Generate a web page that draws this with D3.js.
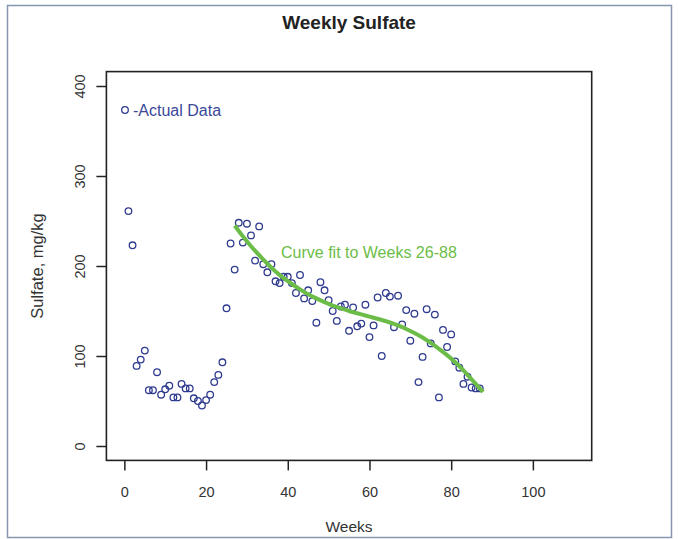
<!DOCTYPE html>
<html>
<head>
<meta charset="utf-8">
<script src="https://cdn.jsdelivr.net/npm/d3@7"></script>
<style>
  html, body { margin: 0; padding: 0; background: #ffffff; }
  svg { display: block; font-family: Arial, "Liberation Sans", Helvetica, sans-serif; }
</style>
</head>
<body>
<svg id="chart" width="678" height="539"></svg>
<script>
// Weekly sulfate measurements (mg/kg)
const weeks = [1, 2, 3, 4, 5, 6, 7, 8, 9, 10,
  11, 12, 13, 14, 15, 16, 17, 18, 19, 20,
  21, 22, 23, 24, 25, 26, 27, 28, 29, 30,
  31, 32, 33, 34, 35, 36, 37, 38, 39, 40,
  41, 42, 43, 44, 45, 46, 47, 48, 49, 50,
  51, 52, 53, 54, 55, 56, 57, 58, 59, 60,
  61, 62, 63, 64, 65, 66, 67, 68, 69, 70,
  71, 72, 73, 74, 75, 76, 77, 78, 79, 80,
  81, 82, 83, 84, 85, 86, 87];
const sulfate = [261, 223, 89, 96, 106, 62, 62, 82, 57, 63,
  67, 54, 54, 69, 64, 64, 53, 50, 45, 51,
  57, 71, 79, 93, 153, 225, 196, 248, 226, 247,
  234, 206, 244, 202, 193, 202, 183, 181, 188, 188,
  181, 170, 190, 164, 173, 161, 137, 182, 173, 162,
  150, 139, 155, 157, 128, 154, 133, 136, 157, 121,
  134, 165, 100, 170, 166, 132, 167, 135, 151, 117,
  147, 71, 99, 152, 114, 146, 54, 129, 110, 124,
  94, 87, 69, 77, 65, 64, 64];

// Fitted trend over weeks 26-88
const fitWeeks = [27, 29, 31, 33, 35, 37, 39, 41, 43, 45, 47, 49, 51, 53, 55, 57,
  59, 61, 63, 65, 67, 69, 71, 73, 75, 77, 79, 81, 83, 85, 87, 87.8];
const fitValues = [245, 233, 222, 212, 202.5, 194, 186.5, 180, 174, 168.5, 164, 159.8, 156, 153, 150, 147.5,
  145, 142.5, 140, 137.2, 134, 130, 125.5, 120.5, 114.5, 108, 101, 93, 84, 74, 64, 60];

const xTicks = [0, 20, 40, 60, 80, 100];
const yTicks = [0, 100, 200, 300, 400];

const pointColor = "#2f3b8f";
const fitColor = "#6cbd48";
const inkColor = "#222222";

const svg = d3.select("#chart");

// outer frame
svg.append("rect")
  .attr("x", 7.5).attr("y", 5.5)
  .attr("width", 664).attr("height", 532)
  .attr("fill", "#ffffff")
  .attr("stroke", "#8797ae")
  .attr("stroke-width", 1.5);

const plot = { left: 106.4, right: 591.7, top: 71.6, bottom: 460.4 };

const x = d3.scaleLinear().domain([-4.4, 114.4]).range([plot.left, plot.right]);
const y = d3.scaleLinear().domain([-16, 416]).range([plot.bottom, plot.top]);

// x axis
const gx = svg.append("g")
  .attr("transform", `translate(0,${plot.bottom})`)
  .call(d3.axisBottom(x).tickValues(xTicks).tickSize(10).tickPadding(16).tickFormat(d3.format("d")));
gx.select(".domain").remove();
gx.selectAll(".tick line").attr("stroke", inkColor).attr("stroke-width", 1.5);
gx.selectAll(".tick text")
  .attr("fill", "#333333")
  .style("font-size", "14.5px")
  .style("font-family", "Arial, 'Liberation Sans', sans-serif");

// y axis, labels turned to read upward
const gy = svg.append("g")
  .attr("transform", `translate(${plot.left},0)`)
  .call(d3.axisLeft(y).tickValues(yTicks).tickSize(10).tickFormat(d3.format("d")));
gy.select(".domain").remove();
gy.selectAll(".tick line").attr("stroke", inkColor).attr("stroke-width", 1.5);
gy.selectAll(".tick text")
  .attr("x", null).attr("dy", null)
  .attr("text-anchor", "middle")
  .attr("transform", "translate(-21,0) rotate(-90)")
  .attr("fill", "#333333")
  .style("font-size", "14.5px")
  .style("font-family", "Arial, 'Liberation Sans', sans-serif");

// plot box
svg.append("rect")
  .attr("x", plot.left).attr("y", plot.top)
  .attr("width", plot.right - plot.left).attr("height", plot.bottom - plot.top)
  .attr("fill", "none")
  .attr("stroke", inkColor)
  .attr("stroke-width", 1.6);

// title and axis titles
svg.append("text")
  .attr("x", (plot.left + plot.right) / 2).attr("y", 29)
  .attr("text-anchor", "middle")
  .attr("fill", "#222222")
  .style("font-size", "19px").style("font-weight", "bold")
  .text("Weekly Sulfate");

svg.append("text")
  .attr("x", (plot.left + plot.right) / 2).attr("y", 532)
  .attr("text-anchor", "middle")
  .attr("fill", "#333333")
  .style("font-size", "15.5px")
  .text("Weeks");

svg.append("text")
  .attr("transform", `translate(43,${(plot.top + plot.bottom) / 2}) rotate(-90)`)
  .attr("text-anchor", "middle")
  .attr("fill", "#333333")
  .style("font-size", "16.5px")
  .text("Sulfate, mg/kg");

// data points
const pts = weeks.map((w, i) => ({ w, v: sulfate[i] }));
svg.append("g").selectAll("circle")
  .data(pts)
  .join("circle")
  .attr("cx", d => x(d.w))
  .attr("cy", d => y(d.v))
  .attr("r", 3.3)
  .attr("fill", "none")
  .attr("stroke", pointColor)
  .attr("stroke-width", 1.3);

// fitted curve
const fit = fitWeeks.map((w, i) => ({ w, v: fitValues[i] }));
svg.append("path")
  .datum(fit)
  .attr("fill", "none")
  .attr("stroke", fitColor)
  .attr("stroke-width", 4)
  .attr("stroke-linecap", "butt")
  .attr("d", d3.line().x(d => x(d.w)).y(d => y(d.v)).curve(d3.curveMonotoneX));

// annotations
const legendY = 110;
svg.append("circle")
  .attr("cx", 125).attr("cy", legendY).attr("r", 3.3)
  .attr("fill", "none").attr("stroke", pointColor).attr("stroke-width", 1.3);
svg.append("text")
  .attr("x", 133).attr("y", legendY + 5.5)
  .attr("fill", "#3a4898")
  .style("font-size", "16px")
  .text("-Actual Data");

svg.append("text")
  .attr("x", 281).attr("y", 258)
  .attr("fill", fitColor)
  .style("font-size", "16px")
  .text("Curve fit to Weeks 26-88");
</script>
</body>
</html>
